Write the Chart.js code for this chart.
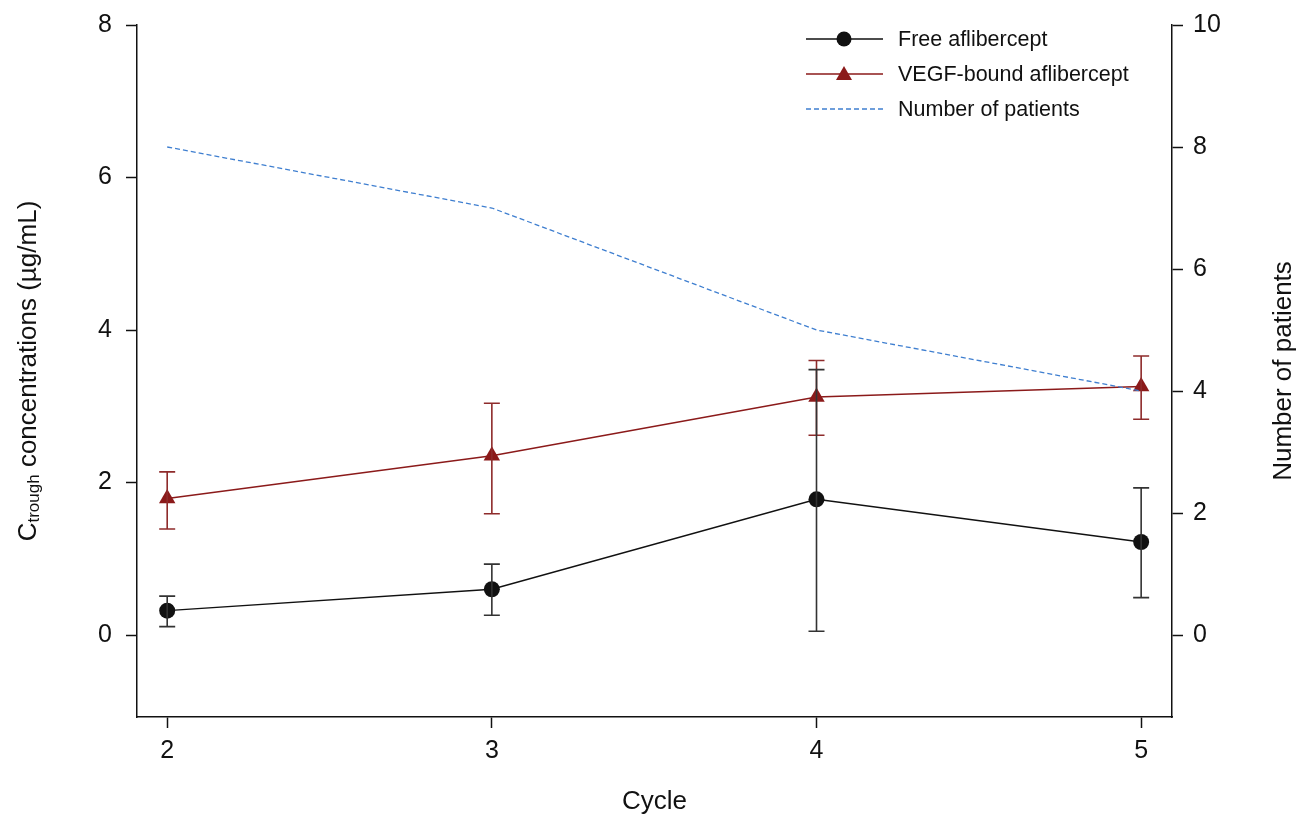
<!DOCTYPE html>
<html>
<head>
<meta charset="utf-8">
<script src="https://cdn.jsdelivr.net/npm/chart.js@4"></script>
<style>
  html, body { margin: 0; padding: 0; background: #fff; }
  #wrap { position: relative; width: 1300px; height: 816px; }
</style>
</head>
<body>
<div id="wrap"><canvas id="chart" width="1300" height="816"></canvas></div>
<script>
// Cycle numbers on the x axis
const cycles = [2, 3, 4, 5];

// Free aflibercept (ug/mL): mean and error bar ends
const freeMean  = [0.32, 0.60, 1.78, 1.22];
const freeUpper = [0.51, 0.93, 3.48, 1.93];
const freeLower = [0.11, 0.26, 0.05, 0.49];

// VEGF-bound aflibercept (ug/mL)
const vegfMean  = [1.79, 2.35, 3.12, 3.26];
const vegfUpper = [2.14, 3.04, 3.60, 3.66];
const vegfLower = [1.39, 1.59, 2.62, 2.83];

// Number of patients (right axis)
const patients = [8, 7, 5, 4];

const leftTicks = [0, 2, 4, 6, 8];
const rightTicks = [0, 2, 4, 6, 8, 10];

const BLACK = '#111111';
const RED = '#8b1a1a';
const BLUE = '#3f7fd0';
const FONT = "'Liberation Sans', Arial, sans-serif";

const pts = (ys) => cycles.map((c, i) => ({ x: c, y: ys[i] }));

// error bars drawn through the scales
const errorBars = {
  id: 'errorBars',
  afterDatasetsDraw(chart) {
    const ctx = chart.ctx;
    const xs = chart.scales.x, ys = chart.scales.y;
    const sets = [
      { lo: vegfLower, hi: vegfUpper, color: '#8e2b2b' },
      { lo: freeLower, hi: freeUpper, color: '#333333' }
    ];
    ctx.save();
    sets.forEach(s => {
      ctx.strokeStyle = s.color;
      ctx.lineWidth = 1.6;
      cycles.forEach((c, i) => {
        const px = xs.getPixelForValue(c);
        const top = ys.getPixelForValue(s.hi[i]);
        const bot = ys.getPixelForValue(s.lo[i]);
        ctx.beginPath();
        ctx.moveTo(px, top); ctx.lineTo(px, bot);
        ctx.moveTo(px - 8, top); ctx.lineTo(px + 8, top);
        ctx.moveTo(px - 8, bot); ctx.lineTo(px + 8, bot);
        ctx.stroke();
      });
    });
    ctx.restore();
  }
};

// axis titles and legend
const decorations = {
  id: 'decorations',
  afterDraw(chart) {
    const ctx = chart.ctx;
    const area = chart.chartArea;
    ctx.save();
    ctx.fillStyle = BLACK;
    ctx.textBaseline = 'middle';

    // x title
    ctx.font = '26px ' + FONT;
    ctx.textAlign = 'center';
    ctx.fillText('Cycle', (area.left + area.right) / 2, 802);

    // left title with subscript
    ctx.save();
    ctx.translate(29, 371);
    ctx.rotate(-Math.PI / 2);
    ctx.textAlign = 'left';
    const big = '26px ' + FONT, small = '17px ' + FONT;
    ctx.font = big; const wC = ctx.measureText('C').width;
    ctx.font = small; const wSub = ctx.measureText('trough').width;
    ctx.font = big; const wRest = ctx.measureText(' concentrations (µg/mL)').width;
    let x0 = -(wC + wSub + wRest) / 2;
    ctx.font = big; ctx.fillText('C', x0, 0);
    ctx.font = small; ctx.fillText('trough', x0 + wC, 5);
    ctx.font = big; ctx.fillText(' concentrations (µg/mL)', x0 + wC + wSub, 0);
    ctx.restore();

    // right title
    ctx.save();
    ctx.translate(1284, 371);
    ctx.rotate(-Math.PI / 2);
    ctx.textAlign = 'center';
    ctx.font = '26px ' + FONT;
    ctx.fillText('Number of patients', 0, 0);
    ctx.restore();

    // legend
    const rows = [
      { label: 'Free aflibercept', color: BLACK, marker: 'circle', dash: [] },
      { label: 'VEGF-bound aflibercept', color: RED, marker: 'triangle', dash: [] },
      { label: 'Number of patients', color: BLUE, marker: null, dash: [5, 3] }
    ];
    ctx.font = '21.5px ' + FONT;
    ctx.textAlign = 'left';
    rows.forEach((r, i) => {
      const y = 39 + i * 35;
      ctx.strokeStyle = r.color;
      ctx.lineWidth = 1.3;
      ctx.setLineDash(r.dash);
      ctx.beginPath(); ctx.moveTo(806, y); ctx.lineTo(883, y); ctx.stroke();
      ctx.setLineDash([]);
      ctx.fillStyle = r.color;
      if (r.marker === 'circle') {
        ctx.beginPath(); ctx.arc(844, y, 7.5, 0, Math.PI * 2); ctx.fill();
      } else if (r.marker === 'triangle') {
        ctx.beginPath();
        ctx.moveTo(844, y - 8); ctx.lineTo(852, y + 6); ctx.lineTo(836, y + 6);
        ctx.closePath(); ctx.fill();
      }
      ctx.fillStyle = BLACK;
      ctx.fillText(r.label, 898, y + 1);
    });
    ctx.restore();
  }
};

const tickFont = { family: FONT, size: 25 };

// fixed widths, no extra label overflow at the top
const fitY = (w) => (s) => { s.width = w; s.paddingTop = 0; s.paddingBottom = 0; };

new Chart(document.getElementById('chart'), {
  type: 'line',
  data: {
    datasets: [
      {
        label: 'Number of patients',
        data: pts(patients),
        yAxisID: 'y2',
        borderColor: BLUE,
        borderWidth: 1.3,
        borderDash: [5, 3],
        pointRadius: 0,
        fill: false,
        tension: 0
      },
      {
        label: 'VEGF-bound aflibercept',
        data: pts(vegfMean),
        yAxisID: 'y',
        borderColor: RED,
        backgroundColor: RED,
        borderWidth: 1.5,
        pointStyle: 'triangle',
        pointRadius: 9.5,
        pointBorderWidth: 0,
        tension: 0
      },
      {
        label: 'Free aflibercept',
        data: pts(freeMean),
        yAxisID: 'y',
        borderColor: BLACK,
        backgroundColor: BLACK,
        borderWidth: 1.5,
        pointStyle: 'circle',
        pointRadius: 8,
        pointBorderWidth: 0,
        tension: 0
      }
    ]
  },
  options: {
    responsive: false,
    animation: false,
    layout: { padding: { top: 25, left: 0, right: 0, bottom: 0 } },
    plugins: { legend: { display: false }, tooltip: { enabled: false } },
    scales: {
      x: {
        type: 'linear',
        min: 1.907,
        max: 5.095,
        afterBuildTicks: (s) => { s.ticks = cycles.map(v => ({ value: v })); },
        afterFit: (s) => { s.height = 99; s.paddingLeft = 0; s.paddingRight = 0; },
        grid: { drawOnChartArea: false, tickLength: 11, color: BLACK, tickWidth: 1.5 },
        border: { color: BLACK, width: 1.5 },
        ticks: { color: BLACK, font: tickFont, padding: 8 }
      },
      y: {
        position: 'left',
        min: -1.075,
        max: 8,
        afterBuildTicks: (s) => { s.ticks = leftTicks.map(v => ({ value: v })); },
        afterFit: fitY(137),
        grid: { drawOnChartArea: false, tickLength: 11, color: BLACK, tickWidth: 1.5 },
        border: { color: BLACK, width: 1.5 },
        ticks: { color: BLACK, font: tickFont, padding: 14 }
      },
      y2: {
        position: 'right',
        min: -1.344,
        max: 10,
        afterBuildTicks: (s) => { s.ticks = rightTicks.map(v => ({ value: v })); },
        afterFit: fitY(128),
        grid: { drawOnChartArea: false, tickLength: 11, color: BLACK, tickWidth: 1.5 },
        border: { color: BLACK, width: 1.5 },
        ticks: { color: BLACK, font: tickFont, padding: 10 }
      }
    }
  },
  plugins: [errorBars, decorations]
});
</script>
</body>
</html>
